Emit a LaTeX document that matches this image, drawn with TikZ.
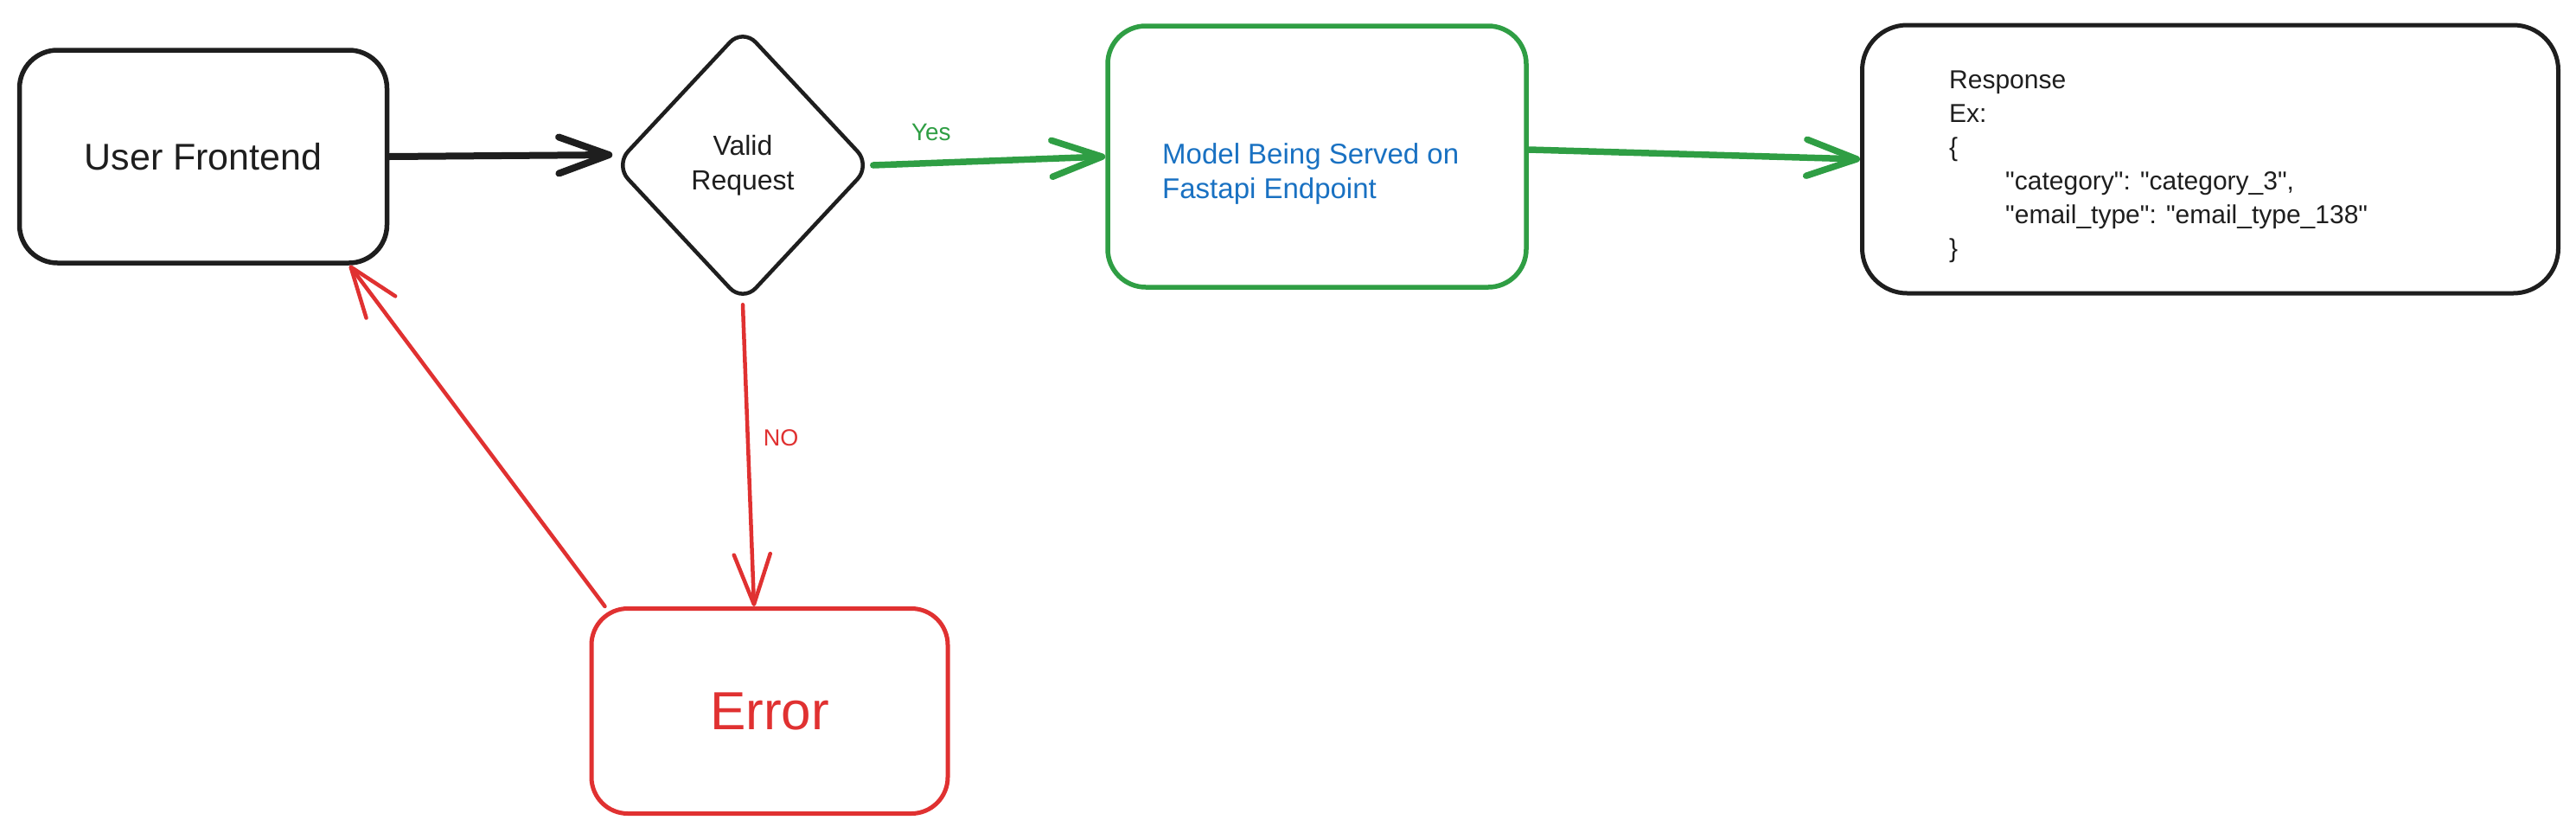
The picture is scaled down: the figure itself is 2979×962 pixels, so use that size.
\documentclass[tikz,border=0pt]{standalone}
\usepackage{fontspec}
\setmainfont{Liberation Sans}
\usetikzlibrary{arrows.meta,shapes.geometric}
\definecolor{ink}{HTML}{1E1E1E}
\definecolor{grn}{HTML}{2F9E44}
\definecolor{rd}{HTML}{E03131}
\definecolor{blu}{HTML}{1971C2}
\newcommand{\dqt}{\textquotedbl}
\begin{document}
\begin{tikzpicture}[x=1pt,y=-1pt,
  box/.style={draw=ink, line width=5.5pt, rounded corners=44pt, inner sep=0pt, line join=round},
  decision/.style={diamond, draw=ink, line width=4.5pt, rounded corners=22pt, inner sep=0pt, line join=round, align=center, text=ink},
  tip/.style={-{Straight Barb[length=58pt,width=42pt,round]}, line cap=round, line join=round},
  lbl/.style={inner sep=0pt, align=left}
]
\useasboundingbox (0,0) rectangle (2979,962);
% nodes
\node[box, minimum width=425pt, minimum height=246pt, text=ink, font=\fontsize{43}{50}\selectfont] (uf) at (235,181) {User Frontend};
\node[decision, minimum width=297pt, minimum height=318pt, font=\fontsize{32}{40}\selectfont] (valid) at (859,191) {Valid\\Request};
\node[box, draw=grn, minimum width=484pt, minimum height=302pt] (model) at (1523,181) {};
\node[lbl, anchor=north west, text=blu, font=\fontsize{33}{40}\selectfont] (modeltext) at (1344,165) {Model Being Served on\\Fastapi Endpoint};
\node[box, line width=5pt, rounded corners=52pt, minimum width=805pt, minimum height=310pt] (resp) at (2556,184) {};
\node[lbl, anchor=north west, text=ink, font=\fontsize{30}{39}\selectfont] (resptext) at (2254,82)
  {Response\\Ex:\\\{\\\hspace*{65pt}\dqt category\dqt: \dqt category\_3\dqt,\\\hspace*{65pt}\dqt email\_type\dqt: \dqt email\_type\_138\dqt\\\}};
\node[box, draw=rd, line width=5pt, rounded corners=42pt, minimum width=412pt, minimum height=237pt, text=rd, font=\fontsize{62}{70}\selectfont] (err) at (890,822) {Error};
% connectors
\draw[tip, draw=ink, line width=8pt] (uf.east) -- ([yshift=12pt]valid.west);
\draw[tip, draw=grn, line width=7.5pt] (valid.east) -- (model.west)
  node[pos=0.25, above=22pt, text=grn, font=\fontsize{28}{32}\selectfont, inner sep=0pt] (yes) {Yes};
\draw[tip, draw=grn, line width=7.5pt] ([yshift=8pt]model.east) -- (resp.west);
\draw[tip, draw=rd, line width=4.5pt] (valid.south) -- ([xshift=-18pt]err.north)
  node[pos=0.44, right=16pt, text=rd, font=\fontsize{27}{32}\selectfont, inner sep=0pt] (no) {NO};
\draw[tip, draw=rd, line width=4.5pt] ([xshift=18pt]err.north west) -- ([xshift=-46pt]uf.south east);
\end{tikzpicture}
\end{document}
